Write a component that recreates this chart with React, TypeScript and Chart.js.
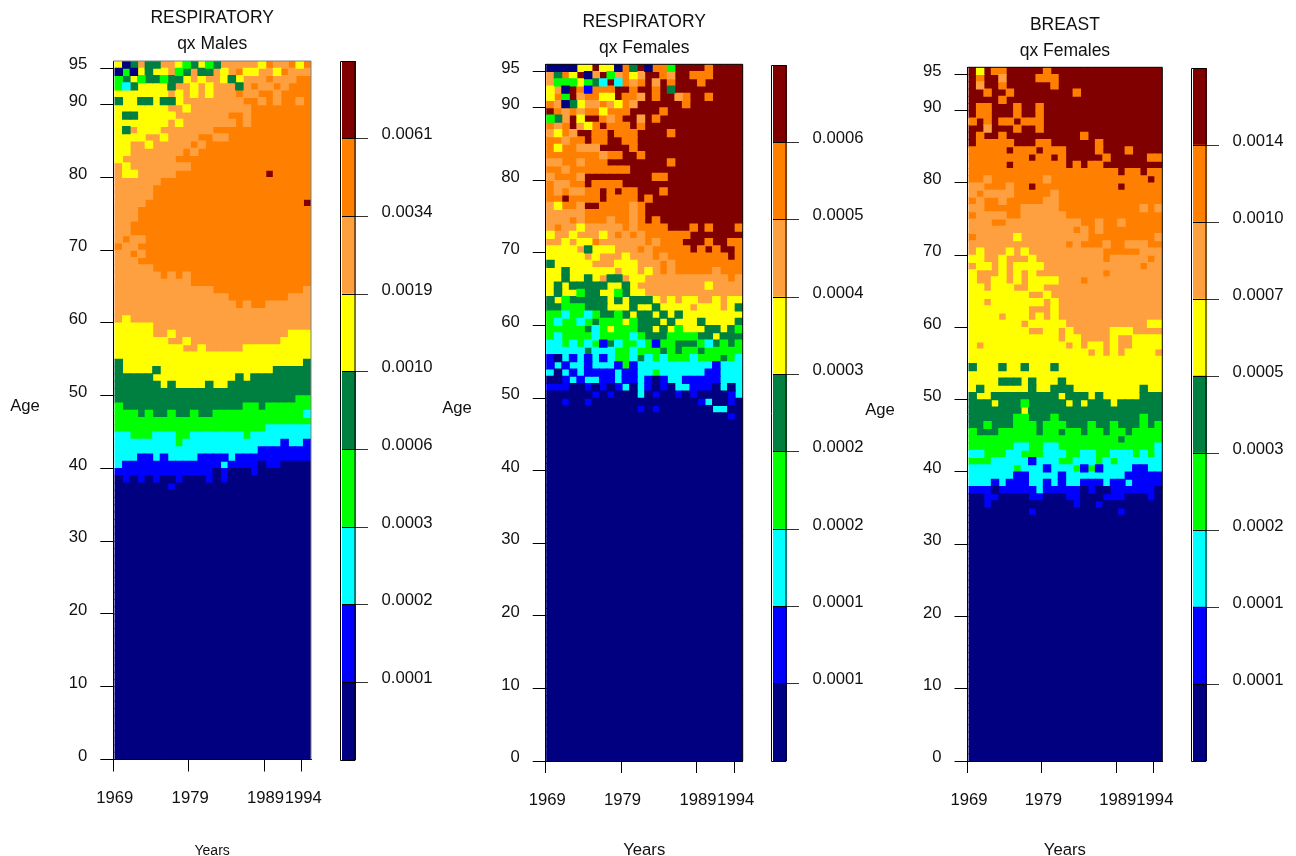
import React, { useEffect, useRef } from "react";
import { Chart, registerables } from "chart.js";

Chart.register(...registerables);

const FONT = "'Liberation Sans', Arial, sans-serif";
const COLORS = ["#000080", "#0000FF", "#00FFFF", "#00FF00", "#008040", "#FFFF00", "#FFA040", "#FF8000", "#800000"];
const FIRST_YEAR = 1969;
const YEAR_COUNT = 26;
const AGE_ROWS = 96;
const YEAR_TICKS = [1969, 1979, 1989, 1994];
const AGE_TICKS = [0, 10, 20, 30, 40, 50, 60, 70, 80, 90, 95];
const LOW_AGE_ROW = "00000000000000000000000000";

// One string per age, from age 95 downward; one digit per year (colour class). Ages below the list are class 0.
const RESP_MALES = [
  "50464466534534666665766757",
  "03054556346446567556657666",
  "34534434456566545666766677",
  "32455554665656664676676777",
  "55555556565656667667767777",
  "45544544566666666776767767",
  "55555556656666666677777777",
  "54455555666666677677777777",
  "55555556566666667677777777",
  "54655566666667777777777777",
  "55556656666776677777777777",
  "55665666667677777777777777",
  "55666666676777777777777777",
  "56666666777777777777777777",
  "65666666667777777777777777",
  "65566666777777777777877777",
  "66666677777777777777777777",
  "66666777777777777777777777",
  "66666777777777777777777777",
  "66667777777777777777777778",
  "66677777777777777777777777",
  "66677777777777777777777777",
  "66777777777777777777777777",
  "66777777777777777777777777",
  "67667777777777777777777777",
  "76677777777777777777777777",
  "66767777777777777777777777",
  "66677777777777777777777777",
  "66666777777777777777777777",
  "66666676767777777777777777",
  "66666666667777777777777777",
  "66666666666667777777777776",
  "66666666666666677777777666",
  "66666666666666667677666666",
  "66666666666666666666666666",
  "65666666666666666666666666",
  "55555666666666666666666666",
  "55555665666666666666666555",
  "55555556656666666666665555",
  "55555555566566666555555555",
  "55555555555555555555555555",
  "45555555555555555555555554",
  "45555455555555555555544444",
  "44444555555555554544444444",
  "44444454555545544444444444",
  "44444444444444444444444444",
  "44444444444444444444444433",
  "34444444444444444334333333",
  "33343443443443333333333332",
  "33333333333333333333333333",
  "33333333333333333333222222",
  "22333222332222222322222222",
  "22222222322222222222221221",
  "22222222222222222221111111",
  "22211212222111121111111111",
  "21111111111111211110110000",
  "11111111111110100010000000",
  "01010100100010100000000000",
  "00000001000000000000000000",
];

const RESP_FEMALES = [
  "00005585507480773888878888",
  "64758068367568876887778888",
  "63335342827678687888788888",
  "56087177788788784888888888",
  "57386775587768788678878888",
  "76045667657688888878888888",
  "87676775777888878888888888",
  "34685887678868788888888888",
  "76786578777878888888888888",
  "65768877877788887888888888",
  "77677877887788888888888888",
  "75776668888788888888888888",
  "77777776778878888888888888",
  "66776777888888887888888888",
  "77677777777888888888888888",
  "67776888888888778888888888",
  "76677877778888888888888888",
  "76766778787788878888888888",
  "77877778777787888888888888",
  "65776887777678888888888888",
  "66666777777678888888888888",
  "66676777677678788888888888",
  "67665666667677778887878887",
  "56656665676767777778888888",
  "66565576666667677788878877",
  "55556455566676777778787887",
  "55555656665666767777777787",
  "45555566655566676777777777",
  "55455555565565676777776777",
  "55455456446556666666666676",
  "54544444554566666666656666",
  "54553445534556666666666666",
  "45344444545444565655665655",
  "44333444555455455556555654",
  "33233234434544545455555555",
  "32332343335344454555455554",
  "33333423533344545355544543",
  "32333323333234443333445444",
  "22323231423323133444324343",
  "22222422233233343433433333",
  "10212121233242323332333432",
  "12122122213122222222221222",
  "20212111121122322222211222",
  "00121221121121012211111222",
  "11100101012021010221110202",
  "00000010100020100101000012",
  "00100100000000000000120010",
  "00000000000010100000002200",
  "00000000000000000000000010",
];

const BREAST_FEMALES = [
  "85877888887888888888888888",
  "87886888877788888888888888",
  "86887888888788888888888888",
  "88788788888888788888888888",
  "88887888888888888888888888",
  "87788878878888888888888888",
  "87788878878888888888888888",
  "78787787778888888888888888",
  "88688878878888888888888888",
  "87887888888888878888888888",
  "87777788877888888788888888",
  "77777877787778888788878888",
  "77777777877878888878888877",
  "77777877777778787788888888",
  "77777777777777777777877877",
  "77677777776777777777777787",
  "66777677877777777777877777",
  "67666677777677777777777777",
  "76776777776677777777777777",
  "66777776666677777777777676",
  "76666776666667777777777777",
  "66677666666666677677677777",
  "66666666666666767677777777",
  "76666656666666667777777776",
  "66666666666667677767766677",
  "65666565666666666677777666",
  "55665666566666666676666676",
  "65565655556666666666666766",
  "56665656566666666676666666",
  "56655656555566676666666666",
  "55655566556666666666666666",
  "55555555665666666666666666",
  "55655555556566666666666666",
  "55555555666566666666666666",
  "55556555656566666666666666",
  "55555556555556666666666655",
  "55555555665565666665556666",
  "55555555555565566665665555",
  "56555555555556565565665555",
  "55555555555555556565655556",
  "55555555555555555555555555",
  "45554554555455555555555555",
  "55555555555555555555555555",
  "55554445455545555555555555",
  "54555555455444555555555455",
  "45544444444454445455555444",
  "44454443444445454445444444",
  "44444445444444444444444444",
  "44444433444344444444444344",
  "44344433343334443443444343",
  "34443333343343343343343333",
  "33333333333333333333433333",
  "33333322332233333333333332",
  "22333223332223322332223232",
  "33322222122233222323222222",
  "22222232221222313122221122",
  "22222211222212222222211111",
  "22212111221212211121121111",
  "11101111121111101001111110",
  "00110000110001100011100010",
  "00100000000000100100000000",
  "00000000100000000000100000",
];

const TITLES_1 = ["RESPIRATORY", "qx Males"];
const TITLES_2 = ["RESPIRATORY", "qx Females"];
const TITLES_3 = ["BREAST", "qx Females"];
const SCALE_LABELS_1 = ["0.0001", "0.0002", "0.0003", "0.0006", "0.0010", "0.0019", "0.0034", "0.0061"];
const SCALE_LABELS_2 = ["0.0001", "0.0001", "0.0002", "0.0002", "0.0003", "0.0004", "0.0005", "0.0006"];
const SCALE_LABELS_3 = ["0.0001", "0.0001", "0.0002", "0.0003", "0.0005", "0.0007", "0.0010", "0.0014"];

// Page layout of each panel, in pixels.
const PANELS = [
  {
    rows: RESP_MALES, title: TITLES_1, scaleLabels: SCALE_LABELS_1,
    canvasLeft: 0, canvasWidth: 335, axisX: 113.3, cellLeft: 115, right: 311, top: 61, bottom: 759.5,
    titlePad: 5, ageX: 25, ageY: 406, yearsSize: 14, yearsPad: -2, frame: "#808080",
    barCanvasLeft: 335, barLeft: 342, barRight: 356, barTop: 61, barBottom: 760,
  },
  {
    rows: RESP_FEMALES, title: TITLES_2, scaleLabels: SCALE_LABELS_2,
    canvasLeft: 430, canvasWidth: 335, axisX: 545.7, cellLeft: 546.7, right: 742.7, top: 64.3, bottom: 761,
    titlePad: 9, ageX: 457, ageY: 408, yearsSize: 16.7, yearsPad: -3, frame: "#000000",
    barCanvasLeft: 765, barLeft: 773, barRight: 787, barTop: 65, barBottom: 761,
  },
  {
    rows: BREAST_FEMALES, title: TITLES_3, scaleLabels: SCALE_LABELS_3,
    canvasLeft: 860, canvasWidth: 325, axisX: 967.5, cellLeft: 969, right: 1162.3, top: 67.3, bottom: 761,
    titlePad: 12, ageX: 880, ageY: 410, yearsSize: 16.7, yearsPad: -3, frame: "#000000",
    barCanvasLeft: 1185, barLeft: 1193, barRight: 1207, barTop: 68, barBottom: 761,
  },
];

const FONT_SIZE = 16.7;
const PAGE_H = 856;
const TEXT = "#111111";
const TITLE_LINE = 26;

type Panel = (typeof PANELS)[number];

const frameAndLabel = {
  id: "frameAndLabel",
  afterDraw(chart: any, _a: any, o: any) {
    const { ctx, chartArea: a } = chart;
    ctx.save();
    ctx.strokeStyle = o.color;
    ctx.lineWidth = 1;
    ctx.beginPath();
    if (o.box) {
      ctx.rect(a.left - 1.5, a.top + 0.5, a.right - a.left + 0.5, a.bottom - a.top);
    } else {
      ctx.moveTo(a.left, a.top);
      ctx.lineTo(a.right, a.top);
      ctx.lineTo(a.right, a.bottom);
    }
    ctx.stroke();
    if (o.age) {
      ctx.fillStyle = TEXT;
      ctx.font = `${FONT_SIZE}px ${FONT}`;
      ctx.textAlign = "center";
      ctx.textBaseline = "middle";
      ctx.fillText(o.age.text, o.age.x, o.age.y);
    }
    ctx.restore();
  },
};

function mainConfig(p: Panel): any {
  const cellW = (p.right - p.cellLeft) / YEAR_COUNT;
  const shift = (p.cellLeft - p.axisX) / cellW;
  const byClass: { x: number; y: number[] }[][] = COLORS.map(() => []);
  for (let age = 0; age < AGE_ROWS; age++) {
    const row = p.rows[AGE_ROWS - 1 - age] ?? LOW_AGE_ROW;
    for (let i = 0; i < YEAR_COUNT; i++) {
      byClass[Number(row[i])].push({ x: FIRST_YEAR + shift + i + 0.5, y: [age, age + 1] });
    }
  }
  return {
    type: "bar",
    data: {
      datasets: byClass.map((data, k) => ({
        data,
        backgroundColor: COLORS[k],
        borderWidth: 0,
        grouped: false,
        barPercentage: 1,
        categoryPercentage: 1,
        inflateAmount: 0.5,
      })),
    },
    plugins: [frameAndLabel],
    options: {
      animation: false,
      responsive: false,
      devicePixelRatio: 1,
      layout: { autoPadding: false, padding: { right: p.canvasLeft + p.canvasWidth - p.right } },
      plugins: {
        legend: { display: false },
        tooltip: { enabled: false },
        title: {
          display: true,
          text: p.title,
          color: TEXT,
          fullSize: false,
          font: { family: FONT, size: 17.5, weight: "normal", lineHeight: TITLE_LINE / 17.5 },
          padding: { top: p.titlePad, bottom: p.top - p.titlePad - 2 * TITLE_LINE },
        },
        frameAndLabel: {
          color: p.frame,
          age: { text: "Age", x: p.ageX - p.canvasLeft, y: p.ageY },
        },
      },
      scales: {
        x: {
          type: "linear",
          offset: false,
          min: FIRST_YEAR,
          max: FIRST_YEAR + (p.right - p.axisX) / cellW,
          afterBuildTicks: (s: any) => { s.ticks = YEAR_TICKS.map((value) => ({ value })); },
          afterFit: (s: any) => {
            s.height = PAGE_H - p.bottom;
            s.paddingLeft = 0;
            s.paddingRight = 0;
          },
          grid: { offset: false, drawOnChartArea: false, tickLength: 12, tickColor: "#000", tickWidth: 1 },
          border: { color: "#000", width: 1 },
          ticks: {
            autoSkip: false, maxRotation: 0, padding: 17, labelOffset: 1.5, color: TEXT,
            font: { family: FONT, size: FONT_SIZE },
            callback: (v: any) => String(v),
          },
          title: {
            display: true, text: "Years", color: TEXT, padding: { top: 0, bottom: p.yearsPad },
            font: { family: FONT, size: p.yearsSize, lineHeight: 1 },
          },
        },
        y: {
          type: "linear",
          min: 0,
          max: AGE_ROWS,
          afterBuildTicks: (s: any) => { s.ticks = AGE_TICKS.map((value) => ({ value })); },
          afterFit: (s: any) => { s.width = p.axisX - p.canvasLeft; },
          grid: { drawOnChartArea: false, tickLength: 13, tickColor: "#000", tickWidth: 1 },
          border: { color: "#000", width: 1 },
          ticks: {
            autoSkip: false, padding: 13, labelOffset: -3.5, color: TEXT,
            font: { family: FONT, size: FONT_SIZE },
            callback: (v: any) => String(v),
          },
        },
      },
    },
  };
}

function barConfig(p: Panel): any {
  const w = 100;
  return {
    type: "bar",
    data: {
      labels: [""],
      datasets: COLORS.map((c, k) => ({
        data: [[k, k + 1]],
        backgroundColor: c,
        borderWidth: 0,
        grouped: false,
        barPercentage: 1,
        categoryPercentage: 1,
      })),
    },
    plugins: [frameAndLabel],
    options: {
      animation: false,
      responsive: false,
      devicePixelRatio: 1,
      layout: {
        autoPadding: false,
        padding: { left: p.barLeft - p.barCanvasLeft, top: p.barTop, bottom: PAGE_H - p.barBottom },
      },
      plugins: {
        legend: { display: false },
        tooltip: { enabled: false },
        frameAndLabel: { color: "#000", box: true },
      },
      scales: {
        x: { display: false },
        y: {
          position: "right",
          min: 0,
          max: COLORS.length,
          afterBuildTicks: (s: any) => {
            s.ticks = p.scaleLabels.map((_: string, i: number) => ({ value: i + 1 }));
          },
          afterFit: (s: any) => { s.width = p.barCanvasLeft + w - p.barRight; },
          grid: { z: 1, tickLength: 12, color: "#000", tickColor: "#333", tickWidth: 1 },
          border: { display: false },
          ticks: {
            autoSkip: false, padding: 13.5, labelOffset: -4, color: TEXT,
            font: { family: FONT, size: FONT_SIZE },
            callback: (v: any) => p.scaleLabels[Number(v) - 1],
          },
        },
      },
    },
  };
}

function ChartCanvas(props: { left: number; width: number; config: any }) {
  const ref = useRef<HTMLCanvasElement | null>(null);
  useEffect(() => {
    const chart = new Chart(ref.current as HTMLCanvasElement, props.config);
    return () => chart.destroy();
  }, []);
  return (
    <canvas
      ref={ref}
      width={props.width}
      height={PAGE_H}
      style={{ position: "absolute", left: props.left, top: 0, width: props.width, height: PAGE_H }}
    />
  );
}

export default function App() {
  return (
    <div style={{ position: "fixed", left: 0, top: 0, width: 1296, height: PAGE_H, overflow: "hidden", background: "#fff" }}>
      {PANELS.map((p, i) => (
        <React.Fragment key={i}>
          <ChartCanvas left={p.canvasLeft} width={p.canvasWidth} config={mainConfig(p)} />
          <ChartCanvas left={p.barCanvasLeft} width={100} config={barConfig(p)} />
        </React.Fragment>
      ))}
    </div>
  );
}
